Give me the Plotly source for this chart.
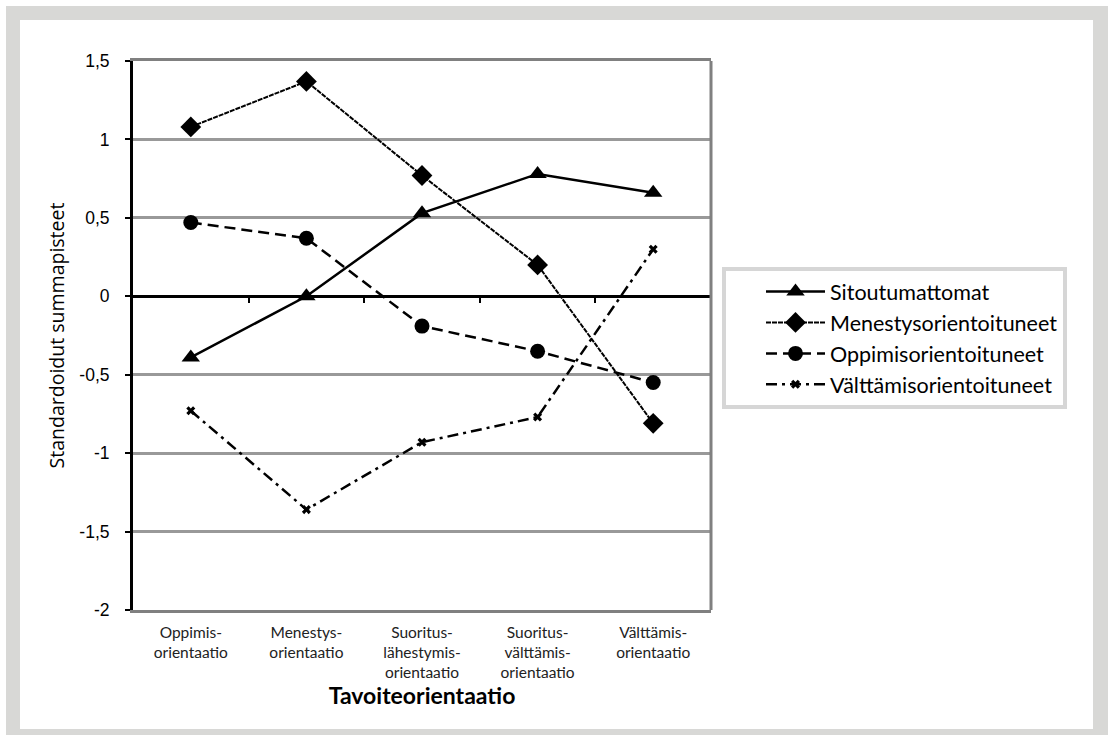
import plotly.graph_objects as go

categories = ["Oppimis-<br>orientaatio", "Menestys-<br>orientaatio",
              "Suoritus-<br>lähestymis-<br>orientaatio",
              "Suoritus-<br>välttämis-<br>orientaatio", "Välttämis-<br>orientaatio"]
sitoutumattomat = [-0.39, 0.0, 0.53, 0.78, 0.66]
menestys = [1.08, 1.37, 0.77, 0.20, -0.81]
oppimis = [0.47, 0.37, -0.19, -0.35, -0.55]
valttamis = [-0.73, -1.36, -0.93, -0.77, 0.30]
series_names = ["Sitoutumattomat", "Menestysorientoituneet",
                "Oppimisorientoituneet", "Välttämisorientoituneet"]
y_ticks = [1.5, 1, 0.5, 0, -0.5, -1, -1.5, -2]
y_ticktext = ["1,5", "1", "0,5", "0", "-0,5", "-1", "-1,5", "-2"]

W, H = 1108, 735
L, R, T, B = 133, 711, 61, 610


def px(x):
    return (x - L) / (R - L)


def py(y):
    return (B - y) / (B - T)


fig = go.Figure()
styles = [
    dict(line=dict(color="black", width=2.5, dash="solid"),
         marker=dict(symbol="triangle-up", size=16, color="black")),
    dict(line=dict(color="black", width=2, dash="5px,1px"),
         marker=dict(symbol="diamond", size=16, color="black")),
    dict(line=dict(color="black", width=2.5, dash="11px,6px"),
         marker=dict(symbol="circle", size=15, color="black")),
    dict(line=dict(color="black", width=2.5, dash="11px,5px,3px,5px"),
         marker=dict(symbol="x", size=8, color="black")),
]
for i, (name, vals) in enumerate(zip(series_names, [sitoutumattomat, menestys, oppimis, valttamis])):
    fig.add_trace(go.Scatter(x=categories, y=vals, name=name, mode="lines+markers",
                             legendgroup=name, **styles[i]))

# helper trace for the zero-line axis
fig.add_trace(go.Scatter(x=[0], y=[0], xaxis="x2", mode="markers",
                         marker=dict(opacity=0), showlegend=False, hoverinfo="skip"))

fig.update_layout(
    width=W, height=H,
    margin=dict(l=L, r=W - R, t=T, b=H - B),
    paper_bgcolor="white", plot_bgcolor="rgba(0,0,0,0)",
    showlegend=True,
    font=dict(family="Lato", color="black"),
    xaxis=dict(
        type="category", range=[-0.5, 4.5], domain=[0, 1],
        showline=True, linecolor="#808080", linewidth=3, mirror=True,
        showgrid=False, ticks="", tickfont=dict(family="Lato", size=15.5, color="#222"),
        ticklabelstandoff=6,
        title=dict(text="<b>Tavoiteorientaatio</b>",
                   font=dict(family="Lato", size=23, color="black"), standoff=4),
    ),
    xaxis2=dict(
        type="linear", range=[-0.5, 4.5], overlaying="x", anchor="free",
        position=2 / 3.5, showline=True, linecolor="black", linewidth=3,
        tickvals=[0.5, 1.5, 2.5, 3.5, 4.5], ticks="outside", ticklen=5,
        tickwidth=2, tickcolor="black", showticklabels=False, showgrid=False,
        zeroline=False,
    ),
    yaxis=dict(
        range=[-2, 1.5], tickvals=y_ticks, ticktext=y_ticktext,
        showgrid=True, gridcolor="#999999", gridwidth=3, zeroline=False,
        showline=True, linecolor="black", linewidth=3,
        ticks="outside", ticklen=5, tickwidth=2, tickcolor="black",
        tickfont=dict(family="Liberation Sans", size=17.5, color="black"),
        ticklabelstandoff=12,
        title=dict(text="Standardoidut summapisteet",
                   font=dict(family="Open Sans", size=19.5, color="black"), standoff=10),
    ),
    legend=dict(
        x=px(722), y=py(267), xanchor="left", yanchor="top",
        bordercolor="#d6d6d6", borderwidth=4, bgcolor="white",
        font=dict(family="Lato", size=21.5, color="black"),
        tracegroupgap=0, itemwidth=59, indentation=35,
    ),
    shapes=[
        dict(type="rect", xref="paper", yref="paper", layer="below",
             x0=px(6), x1=px(1108), y0=py(6), y1=py(740),
             fillcolor="#d8d8d6", line=dict(width=0)),
        dict(type="rect", xref="paper", yref="paper", layer="below",
             x0=px(20), x1=px(1093), y0=py(20), y1=py(729),
             fillcolor="white", line=dict(width=0)),
        dict(type="line", xref="paper", yref="paper", layer="above",
             x0=1, x1=1, y0=0, y1=1, line=dict(color="#808080", width=3)),
    ],
)

fig.write_html("out.html", config={"displayModeBar": False},
               post_script="document.body.style.margin='0';document.body.style.overflow='hidden';")
